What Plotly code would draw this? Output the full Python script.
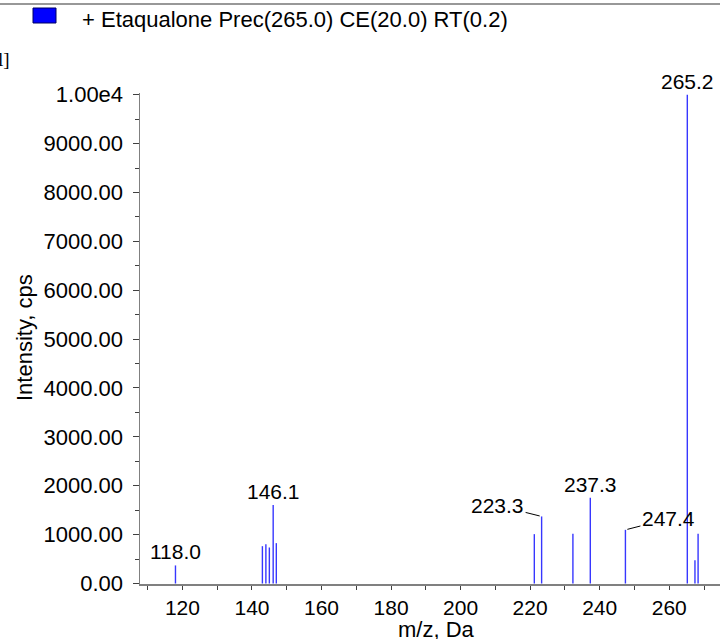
import plotly.graph_objects as go

# ---- data ----
mz = [118.0, 143.0, 144.0, 145.0, 146.1, 147.0, 221.2, 223.3, 232.3, 237.3, 247.4, 265.2, 267.4, 268.3]
intensity = [370, 764, 805, 737, 1604, 826, 1010, 1372, 1016, 1753, 1098, 10000, 477, 1016]
labels_plain = [118.0, 146.1, 237.3, 265.2]
labels_leader = [223.3, 247.4]
leader_offsets = {223.3: (-44, -11), 247.4: (43, -11)}
x_ticks = [120, 140, 160, 180, 200, 220, 240, 260]
y_ticks = [0, 1000, 2000, 3000, 4000, 5000, 6000, 7000, 8000, 9000, 10000]
y_ticktext = ["0.00", "1000.00", "2000.00", "3000.00", "4000.00", "5000.00",
              "6000.00", "7000.00", "8000.00", "9000.00", "1.00e4"]
title_text = "+ Etaqualone Prec(265.0) CE(20.0) RT(0.2)"
x_range = [107.8, 274.6]
y_range = [-10, 10035]

# ---- layout geometry ----
W, H = 720, 639
ML, MR, MT, MB = 140, 0, 93, 55
PW, PH = W - ML - MR, H - MT - MB


def px(xp):
    return (xp - ML) / PW


def py(yp):
    return (H - MB - yp) / PH


FONT = "Liberation Sans, Arial, sans-serif"
AXC = "#808080"
BLUE = "rgb(55,55,255)"

xs, ys = [], []
for m, v in zip(mz, intensity):
    xs += [m, m, None]
    ys += [0, v, None]

fig = go.Figure()
fig.add_trace(go.Scatter(x=xs, y=ys, mode="lines",
                         line=dict(color=BLUE, width=1.4),
                         hoverinfo="skip", showlegend=False))

annotations = []
for lab in labels_plain:
    v = intensity[mz.index(lab)]
    annotations.append(dict(x=lab, y=v, xref="x", yref="y", text=f"{lab:.1f}",
                            showarrow=False, yanchor="bottom", xanchor="center",
                            yshift=0, font=dict(family=FONT, size=21, color="black")))
for lab in labels_leader:
    v = intensity[mz.index(lab)]
    ax, ay = leader_offsets[lab]
    annotations.append(dict(x=lab, y=v, xref="x", yref="y", text=f"{lab:.1f}",
                            showarrow=True, arrowhead=0, arrowwidth=1, arrowcolor="black",
                            ax=ax, ay=ay, standoff=2,
                            font=dict(family=FONT, size=21, color="black")))

# header text
annotations.append(dict(x=px(80), y=py(20), xref="paper", yref="paper", text=title_text,
                        showarrow=False, xanchor="left", yanchor="middle",
                        font=dict(family=FONT, size=22, color="black")))
annotations.append(dict(x=px(12), y=py(59), xref="paper", yref="paper", text="l]",
                        showarrow=False, xanchor="right", yanchor="middle",
                        font=dict(family="Liberation Serif, serif", size=19, color="black")))
# axis titles
annotations.append(dict(x=px(24), y=py(338), xref="paper", yref="paper", text="Intensity, cps",
                        showarrow=False, textangle=-90, xanchor="center", yanchor="middle",
                        font=dict(family=FONT, size=22, color="black")))
annotations.append(dict(x=px(436), y=py(629), xref="paper", yref="paper", text="m/z, Da",
                        showarrow=False, xanchor="center", yanchor="middle",
                        font=dict(family=FONT, size=22, color="black")))

shapes = [
    # top rule
    dict(type="line", xref="paper", yref="paper", x0=px(0), x1=px(W), y0=py(4), y1=py(4),
         line=dict(color="#333333", width=1.2)),
    # legend swatch
    dict(type="rect", xref="paper", yref="paper", x0=px(33), x1=px(56), y0=py(23), y1=py(8),
         fillcolor="#0000ff", line=dict(color="#000060", width=1)),
    # zero marker triangle on the y axis
    dict(type="path", xref="x", yref="y", xsizemode="pixel", ysizemode="pixel",
         xanchor=x_range[0], yanchor=0, path="M -10 -6 L 0 3 L -10 12 Z",
         fillcolor="#0000ff", line=dict(color="#000040", width=1)),
]

fig.update_layout(
    width=W, height=H, autosize=False,
    margin=dict(l=ML, r=MR, t=MT, b=MB, pad=0),
    paper_bgcolor="white", plot_bgcolor="white",
    font=dict(family=FONT, size=21, color="black"),
    annotations=annotations, shapes=shapes,
    xaxis=dict(range=x_range, tickmode="array", tickvals=x_ticks,
               ticks="outside", ticklen=4, tickwidth=1, tickcolor="#404040",
               showline=True, linecolor=AXC, linewidth=1.5, showgrid=False, zeroline=False,
               tickfont=dict(family=FONT, size=21, color="black"),
               minor=dict(tickvals=[t for t in range(110, 275, 10)], ticks="outside",
                          ticklen=4, tickcolor="#404040")),
    yaxis=dict(range=y_range, tickmode="array", tickvals=y_ticks, ticktext=y_ticktext,
               ticks="outside", ticklen=6, tickwidth=1, tickcolor="#404040",
               showline=True, linecolor=AXC, linewidth=1.5, showgrid=False, zeroline=False,
               ticklabelstandoff=5,
               tickfont=dict(family=FONT, size=22, color="black"),
               minor=dict(tickvals=[t for t in range(500, 10000, 1000)], ticks="outside",
                          ticklen=4, tickcolor="#404040")),
)

fig.write_html("out.html", config={"displayModeBar": False, "staticPlot": True},
               post_script="document.body.style.margin='0px';document.body.style.overflow='hidden';")
